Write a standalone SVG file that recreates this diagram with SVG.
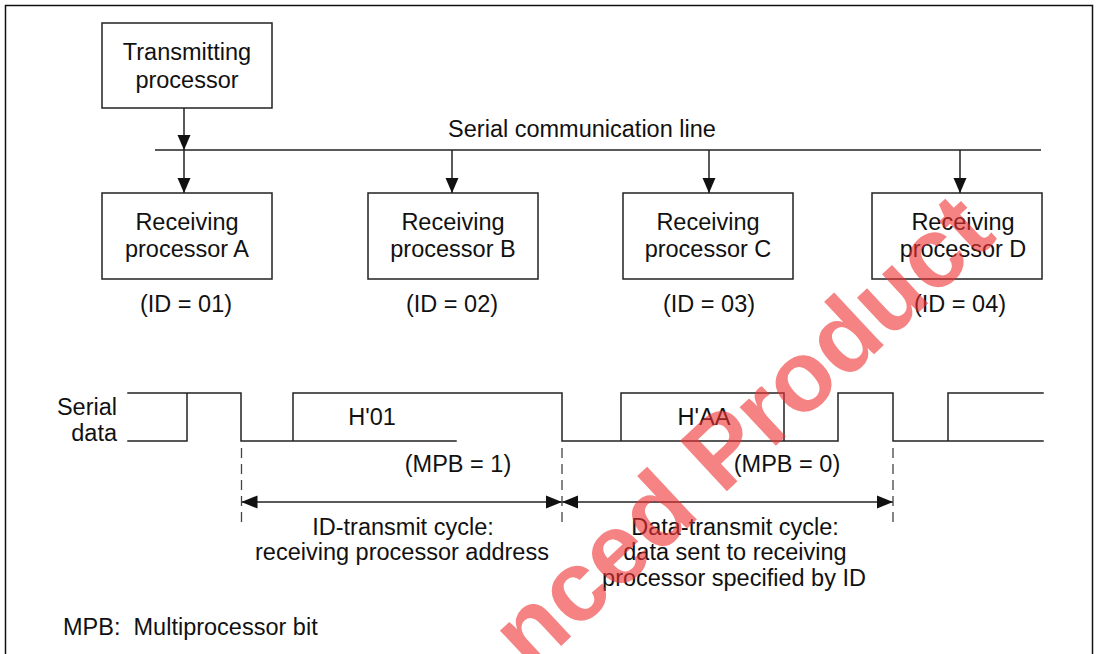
<svg xmlns="http://www.w3.org/2000/svg" width="1098" height="654" viewBox="0 0 1098 654">
<style>
text{font-family:"Liberation Sans",Arial,sans-serif;font-size:23.5px;fill:#111}
.c{text-anchor:middle}
.e{text-anchor:end}
.box{fill:#fff;stroke:#222;stroke-width:1.5}
.ln{fill:none;stroke:#222;stroke-width:1.5}
.wave{fill:none;stroke:#222;stroke-width:1.5;stroke-linecap:square}
.dash{fill:none;stroke:#444;stroke-width:1.3;stroke-dasharray:10 6}
.wm{font-weight:bold;font-size:100px;fill:#f03030;fill-opacity:0.6}
</style>
<defs>
<marker id="ah" markerUnits="userSpaceOnUse" markerWidth="16" markerHeight="14" refX="15" refY="7" orient="auto">
<path d="M0,0.5 L15,7 L0,13.5 Z" fill="#111"/>
</marker>
<marker id="ahs" markerUnits="userSpaceOnUse" markerWidth="16" markerHeight="14" refX="0" refY="7" orient="auto">
<path d="M16,0.5 L0,7 L16,13.5 Z" fill="#111"/>
</marker>
<marker id="ahe" markerUnits="userSpaceOnUse" markerWidth="16" markerHeight="14" refX="16" refY="7" orient="auto">
<path d="M0,0.5 L16,7 L0,13.5 Z" fill="#111"/>
</marker>
</defs>
<rect x="5.5" y="5.5" width="1087" height="660" fill="#fff" stroke="#111" stroke-width="1.5"/>

<g id="transmitter">
<rect class="box" x="102" y="23" width="170" height="85"/>
<text class="c" x="187" y="60">Transmitting</text>
<text class="c" x="187" y="88">processor</text>
</g>

<g id="bus">
<line class="ln" x1="155" y1="150" x2="1041" y2="150"/>
<text class="c" x="582" y="137">Serial communication line</text>
</g>

<g id="rxA">
<rect class="box" x="102" y="193" width="170" height="86"/>
<text class="c" x="187" y="230">Receiving</text>
<text class="c" x="187" y="257">processor A</text>
<text class="c" x="186" y="312">(ID = 01)</text>
</g>
<g id="rxB">
<rect class="box" x="368" y="193" width="170" height="86"/>
<text class="c" x="453" y="230">Receiving</text>
<text class="c" x="453" y="257">processor B</text>
<text class="c" x="452" y="312">(ID = 02)</text>
</g>
<g id="rxC">
<rect class="box" x="623" y="193" width="170" height="86"/>
<text class="c" x="708" y="230">Receiving</text>
<text class="c" x="708" y="257">processor C</text>
<text class="c" x="709" y="312">(ID = 03)</text>
</g>
<g id="rxD">
<rect class="box" x="872" y="193" width="170" height="86"/>
<text class="c" x="963" y="230">Receiving</text>
<text class="c" x="963" y="257">processor D</text>
<text class="c" x="960" y="312">(ID = 04)</text>
</g>

<g id="connectors">
<line class="ln" x1="184" y1="108" x2="184" y2="150" marker-end="url(#ah)"/>
<line class="ln" x1="184" y1="150" x2="184" y2="193" marker-end="url(#ah)"/>
<line class="ln" x1="452" y1="150" x2="452" y2="193" marker-end="url(#ah)"/>
<line class="ln" x1="709" y1="150" x2="709" y2="193" marker-end="url(#ah)"/>
<line class="ln" x1="960" y1="150" x2="960" y2="193" marker-end="url(#ah)"/>
<line class="ln" x1="241.5" y1="502" x2="562" y2="502" marker-start="url(#ahs)" marker-end="url(#ahe)"/>
<line class="ln" x1="562" y1="502" x2="893" y2="502" marker-start="url(#ahs)" marker-end="url(#ahe)"/>
</g>

<g id="waveform">
<text class="e" x="117" y="415">Serial</text>
<text class="e" x="117" y="441">data</text>
<path class="wave" d="M128,393 H241 V441 H456 M128,441 H187 V393 M293,441 V393 H562 V441 H838 V393 H893 V441 H1043 M621,441 V393 H784 V441 M948,441 V393 H1043"/>
<text class="c" x="372" y="425">H'01</text>
<text class="c" x="704" y="425">H'AA</text>
<text class="c" x="458" y="472">(MPB = 1)</text>
<text class="c" x="787" y="472">(MPB = 0)</text>
<line class="dash" x1="241.5" y1="448" x2="241.5" y2="524"/>
<line class="dash" x1="562" y1="448" x2="562" y2="524"/>
<line class="dash" x1="893" y1="448" x2="893" y2="524"/>
</g>

<g id="cycle-labels">
<text class="c" x="403" y="535">ID-transmit cycle:</text>
<text class="c" x="402" y="560">receiving processor address</text>
<text class="c" x="735" y="535">Data-transmit cycle:</text>
<text class="c" x="735" y="560">data sent to receiving</text>
<text class="c" x="734" y="586">processor specified by ID</text>
</g>

<text x="63" y="635" xml:space="preserve">MPB:  Multiprocessor bit</text>

<text class="wm" transform="translate(531,674) rotate(-43)">nced Product</text>
</svg>
